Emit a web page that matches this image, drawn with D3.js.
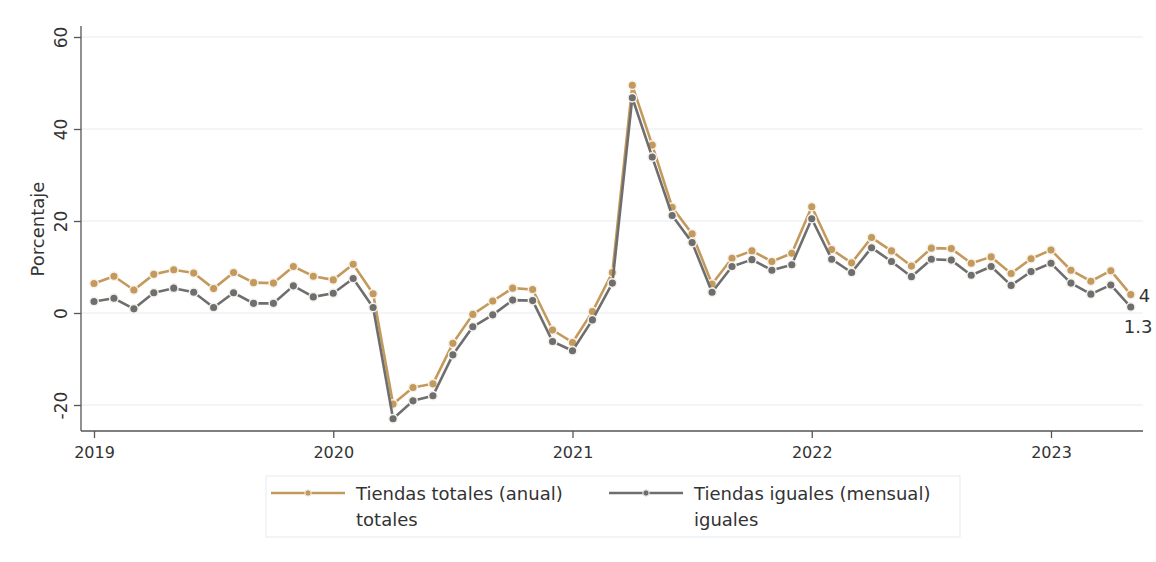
<!DOCTYPE html>
<html lang="en">
<head>
<meta charset="utf-8">
<script src="https://d3js.org/d3.v7.min.js"></script>
<style>
  body { margin: 0; background: #fff; }
  text { font-family: "DejaVu Sans", sans-serif; fill: #333; }
</style>
</head>
<body>
<script>
// monthly series, Jan 2019 - May 2023
var years = [2019, 2020, 2021, 2022, 2023];
var yTicks = [-20, 0, 20, 40, 60];
var totales = [
  6.4, 8.0, 5.0, 8.4, 9.4, 8.7, 5.3, 8.8, 6.6, 6.5, 10.1, 8.0,
  7.2, 10.6, 4.2, -19.8, -16.2, -15.4, -6.6, -0.3, 2.6, 5.4, 5.1, -3.7,
  -6.4, 0.3, 8.8, 49.5, 36.5, 23.0, 17.2, 6.3, 11.9, 13.5, 11.2, 13.0,
  23.1, 13.8, 10.9, 16.4, 13.5, 10.2, 14.1, 14.0, 10.8, 12.2, 8.6, 11.8,
  13.7, 9.3, 6.9, 9.2, 4
];
var iguales = [
  2.5, 3.2, 0.9, 4.4, 5.4, 4.5, 1.2, 4.4, 2.1, 2.1, 5.9, 3.5,
  4.3, 7.5, 1.2, -23.0, -19.1, -18.0, -9.1, -3.0, -0.4, 2.8, 2.7, -6.2,
  -8.2, -1.5, 6.5, 46.8, 33.9, 21.2, 15.3, 4.5, 10.1, 11.6, 9.3, 10.5,
  20.5, 11.7, 8.8, 14.2, 11.2, 7.9, 11.7, 11.5, 8.2, 10.1, 6.0, 9.0,
  10.8, 6.5, 4.1, 6.1, 1.3
];
var series = [
  {name: "Tiendas totales (anual)", sub: "totales", values: totales, color: "#c49a5c"},
  {name: "Tiendas iguales (mensual)", sub: "iguales", values: iguales, color: "#6e6e6e"}
];

var width = 1156, height = 562;
var svg = d3.select("body").append("svg")
    .attr("width", width)
    .attr("height", height);

// month index -> x
var x = d3.scaleLinear().domain([0, 48]).range([94, 1051]);
var y = d3.scaleLinear().domain([-20, 60]).range([405, 37]);

var axisLeftX = 81, axisBottomY = 431, plotRight = 1143, plotTop = 26;

// grid
svg.append("g").selectAll("line")
    .data(yTicks)
    .enter().append("line")
    .attr("x1", axisLeftX).attr("x2", plotRight)
    .attr("y1", function(d) { return y(d); })
    .attr("y2", function(d) { return y(d); })
    .attr("stroke", "#e5eef3")
    .attr("stroke-width", 1.2);

// y axis
var yAxis = svg.append("g")
    .attr("transform", "translate(" + axisLeftX + ",0)")
    .call(d3.axisLeft(y).tickValues(yTicks).tickSize(7).tickSizeOuter(0));
yAxis.select(".domain").remove();
yAxis.append("line")
    .attr("y1", plotTop).attr("y2", axisBottomY)
    .attr("stroke", "#555").attr("stroke-width", 1.3);
yAxis.selectAll(".tick line").attr("stroke", "#555").attr("stroke-width", 1.3);
yAxis.selectAll(".tick text")
    .attr("x", 0).attr("dy", 0)
    .attr("transform", "translate(-14,0) rotate(-90)")
    .attr("text-anchor", "middle")
    .style("font-size", "17px")
    .style("font-family", "'DejaVu Sans', sans-serif")
    .attr("fill", "#333")
    .text(function(d) { return d; });

// x axis
var xAxis = svg.append("g")
    .attr("transform", "translate(0," + axisBottomY + ")")
    .call(d3.axisBottom(x).tickValues([0, 12, 24, 36, 48]).tickSize(7)
      .tickFormat(function(d, i) { return years[i]; }));
xAxis.select(".domain").remove();
xAxis.append("line")
    .attr("x1", axisLeftX).attr("x2", plotRight)
    .attr("stroke", "#555").attr("stroke-width", 1.3);
xAxis.selectAll(".tick line").attr("stroke", "#555").attr("stroke-width", 1.3);
xAxis.selectAll(".tick text")
    .attr("y", 16)
    .style("font-size", "16px")
    .style("font-family", "'DejaVu Sans', sans-serif")
    .attr("fill", "#333");

// y title
svg.append("text")
    .attr("transform", "translate(44,229) rotate(-90)")
    .attr("text-anchor", "middle")
    .style("font-size", "18px")
    .text("Porcentaje");

var line = d3.line()
    .x(function(d, i) { return x(i); })
    .y(function(d) { return y(d); });

series.forEach(function(s) {
  svg.append("path")
      .datum(s.values)
      .attr("fill", "none")
      .attr("stroke", s.color)
      .attr("stroke-width", 2.6)
      .attr("stroke-linejoin", "round")
      .attr("d", line);
  svg.append("g").selectAll("circle")
      .data(s.values)
      .enter().append("circle")
      .attr("cx", function(d, i) { return x(i); })
      .attr("cy", function(d) { return y(d); })
      .attr("r", 4.3)
      .attr("fill", s.color)
      .attr("stroke", "#f5f1ea")
      .attr("stroke-width", 1.5);
});

// end labels
var last = totales.length - 1;
svg.append("text")
    .attr("x", x(last) + 8)
    .attr("y", y(totales[last]) + 7)
    .style("font-size", "18px")
    .text(totales[last]);
svg.append("text")
    .attr("x", x(last) - 7)
    .attr("y", y(iguales[last]) + 26)
    .style("font-size", "18px")
    .text(iguales[last]);

// legend
var legend = svg.append("g");
legend.append("rect")
    .attr("x", 266).attr("y", 476)
    .attr("width", 694).attr("height", 61)
    .attr("fill", "#fff")
    .attr("stroke", "#e8eff3")
    .attr("stroke-width", 1.2);
var legX = [271, 609];
series.forEach(function(s, i) {
  var g = legend.append("g").attr("transform", "translate(" + legX[i] + ",0)");
  g.append("line")
      .attr("x1", 0).attr("x2", 74)
      .attr("y1", 493).attr("y2", 493)
      .attr("stroke", s.color).attr("stroke-width", 2.6);
  g.append("circle")
      .attr("cx", 37).attr("cy", 493).attr("r", 3.2)
      .attr("fill", s.color)
      .attr("stroke", "#f3efe8").attr("stroke-width", 1);
  g.append("text")
      .attr("x", 85).attr("y", 500)
      .style("font-size", "18px")
      .text(s.name);
  g.append("text")
      .attr("x", 85).attr("y", 526)
      .style("font-size", "18px")
      .text(s.sub);
});
</script>
</body>
</html>
